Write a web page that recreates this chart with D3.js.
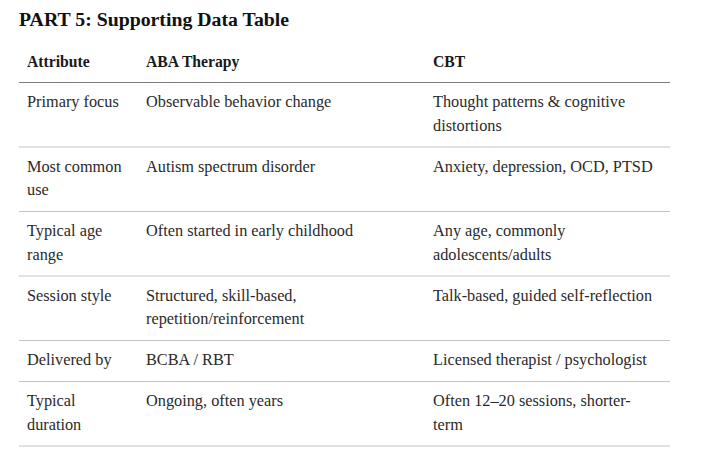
<!DOCTYPE html>
<html>
<head>
<meta charset="utf-8">
<script src="https://cdn.jsdelivr.net/npm/d3@7"></script>
<style>
  html, body { margin: 0; padding: 0; background: #fff; }
  svg text { font-family: "Liberation Serif", "DejaVu Serif", serif; }
</style>
</head>
<body>
<div id="chart"></div>
<script>
//////////////////////////////////////////////////////////////
// Data - one row per attribute, "\n" marks where a cell wraps
//////////////////////////////////////////////////////////////
var title = "PART 5: Supporting Data Table";
var columns = ["Attribute", "ABA Therapy", "CBT"];
var attributes = ["Primary focus", "Most common\nuse", "Typical age\nrange", "Session style", "Delivered by", "Typical\nduration"];
var abaValues = [
  "Observable behavior change",
  "Autism spectrum disorder",
  "Often started in early childhood",
  "Structured, skill-based,\nrepetition/reinforcement",
  "BCBA / RBT",
  "Ongoing, often years"
];
var cbtValues = [
  "Thought patterns & cognitive\ndistortions",
  "Anxiety, depression, OCD, PTSD",
  "Any age, commonly\nadolescents/adults",
  "Talk-based, guided self-reflection",
  "Licensed therapist / psychologist",
  "Often 12\u201320 sessions, shorter-\nterm"
];

//////////////////////////////////////////////////////////////
// Layout
//////////////////////////////////////////////////////////////
var width = 717, height = 458,
    left = 19, right = 670,
    headerLine = 82,
    lineHeight = 23.5,
    rowPad = 17.5,
    firstBaseline = 25;

var svg = d3.select("#chart").append("svg")
  .attr("width", width)
  .attr("height", height);

//column x positions
var x = d3.scaleOrdinal()
  .domain(columns)
  .range([27, 146, 433]);

//table rows from the arrays
var rows = attributes.map(function(a, i) {
  return [a, abaValues[i], cbtValues[i]].map(function(s) { return s.split("\n"); });
});
var rowHeights = rows.map(function(r) {
  return rowPad + lineHeight * d3.max(r, function(c) { return c.length; });
});
var rowTops = [headerLine].concat(Array.from(d3.cumsum(rowHeights), function(h) { return headerLine + h; }));

//Title
svg.append("text")
  .attr("x", left)
  .attr("y", 26)
  .attr("fill", "#111")
  .style("font-size", "19.8px")
  .style("font-weight", "bold")
  .text(title);

//Header
svg.selectAll(".colHead")
  .data(columns)
  .enter().append("text")
  .attr("class", "colHead")
  .attr("x", function(d) { return x(d); })
  .attr("y", 67)
  .attr("fill", "#1a1a1a")
  .style("font-size", "15.7px")
  .style("font-weight", "bold")
  .text(function(d) { return d; });

svg.append("line")
  .attr("x1", left).attr("x2", right)
  .attr("y1", headerLine + 0.5).attr("y2", headerLine + 0.5)
  .attr("stroke", "#7a7a7a")
  .attr("stroke-width", 1.2);

//Body rows
var row = svg.selectAll(".row")
  .data(rows)
  .enter().append("g")
  .attr("class", "row")
  .attr("transform", function(d, i) { return "translate(0," + rowTops[i] + ")"; });

row.append("line")
  .attr("x1", left).attr("x2", right)
  .attr("y1", function(d, i) { return rowHeights[i] + 0.5; })
  .attr("y2", function(d, i) { return rowHeights[i] + 0.5; })
  .attr("stroke", "#c4c4c4")
  .attr("stroke-width", 1);

row.selectAll(".cell")
  .data(function(d) { return d; })
  .enter().append("text")
  .attr("class", "cell")
  .attr("x", function(d, j) { return x(columns[j]); })
  .attr("y", firstBaseline)
  .attr("fill", "#2a2a2a")
  .style("font-size", "16.3px")
  .selectAll("tspan")
    .data(function(d) { return d; })
    .enter().append("tspan")
    .attr("x", function() { return d3.select(this.parentNode).attr("x"); })
    .attr("dy", function(d, k) { return k === 0 ? 0 : lineHeight; })
    .text(function(d) { return d; });
</script>
</body>
</html>
